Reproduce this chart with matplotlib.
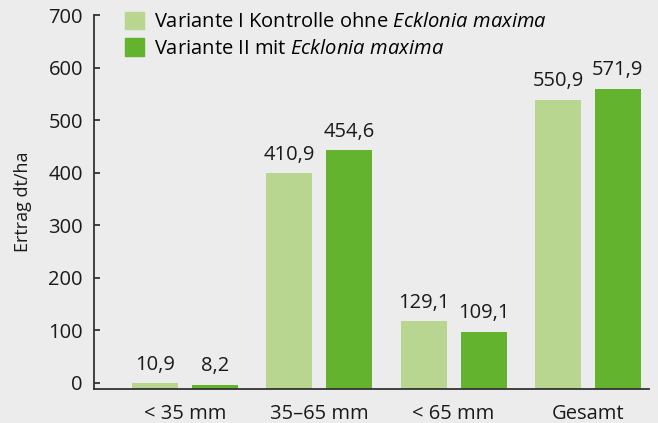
import matplotlib
matplotlib.use("Agg")
import matplotlib.pyplot as plt
from matplotlib.patches import Patch
import numpy as np

# data
categories = ["< 35 mm", "35–65 mm", "< 65 mm", "Gesamt"]
variante_1 = [10.9, 410.9, 129.1, 550.9]   # Kontrolle ohne Ecklonia maxima
variante_2 = [8.2, 454.6, 109.1, 571.9]    # mit Ecklonia maxima
yticks = [0, 100, 200, 300, 400, 500, 600, 700]

plt.rcParams['font.family'] = ['Open Sans', 'DejaVu Sans']
plt.rcParams['mathtext.fontset'] = 'custom'
plt.rcParams['mathtext.rm'] = 'Open Sans'
plt.rcParams['mathtext.it'] = 'Open Sans:italic'

bg = "#ececec"
c_light = "#b8d690"
c_dark = "#64b32e"
txt = "#1a1a1a"
fs = 14.5

fig = plt.figure(figsize=(6.58, 4.23), dpi=100, facecolor=bg)
ax = fig.add_axes([0.1429, 0.0804, 0.8434, 0.8841], facecolor=bg)

y0 = -12          # axis starts a bit below zero, bars start at the axis
x = np.arange(len(categories))
w = 0.3425
off = 0.2234

b1 = ax.bar(x - off, variante_1, w, bottom=y0, color=c_light)
b2 = ax.bar(x + off, variante_2, w, bottom=y0, color=c_dark)

for bars, vals in ((b1, variante_1), (b2, variante_2)):
    for b, v in zip(bars, vals):
        ax.annotate(f"{v:.1f}".replace(".", ","),
                    (b.get_x() + b.get_width() / 2, y0 + v),
                    xytext=(0, 6), textcoords="offset points",
                    ha="center", va="bottom", fontsize=fs, color=txt)

ax.set_xlim(-0.678, 3.455)
ax.set_ylim(y0, 700)
ax.set_yticks(yticks)
ax.set_xticks(x)
ax.set_xticklabels(categories)

for s in ("top", "right"):
    ax.spines[s].set_visible(False)
for s in ("left", "bottom"):
    ax.spines[s].set_color("#333333")
    ax.spines[s].set_linewidth(1.3)

ax.tick_params(axis="y", direction="in", length=4.5, width=1.3,
               color="#333333", pad=8, labelsize=fs, labelcolor=txt)
ax.tick_params(axis="x", length=0, pad=11, labelsize=fs, labelcolor=txt)

ax.set_ylabel("Ertrag dt/ha", fontsize=13, color=txt, labelpad=12)

handles = [Patch(color=c_light), Patch(color=c_dark)]
labels = [r"Variante I Kontrolle ohne $\it{Ecklonia\ maxima}$",
          r"Variante II mit $\it{Ecklonia\ maxima}$"]
ax.legend(handles, labels, loc="upper left", bbox_to_anchor=(0.19, 0.972),
          bbox_transform=fig.transFigure, frameon=False, fontsize=fs,
          handlelength=0.95, handleheight=0.95, handletextpad=0.5,
          labelspacing=0.3, borderaxespad=0, borderpad=0)

plt.savefig("out.png", dpi=100, facecolor=bg)
